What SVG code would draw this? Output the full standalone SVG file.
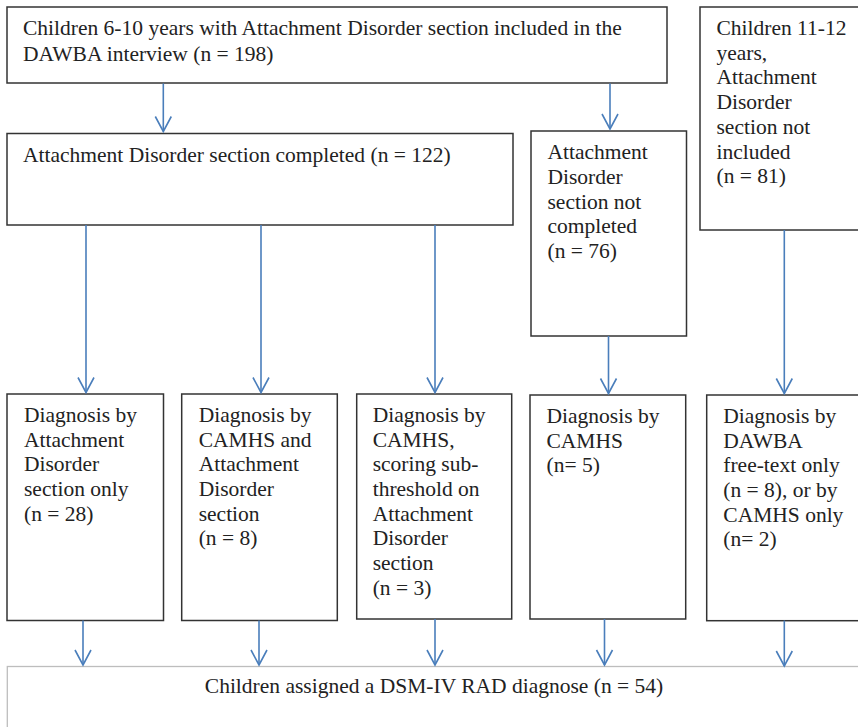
<svg xmlns="http://www.w3.org/2000/svg" width="858" height="727" viewBox="0 0 858 727">
<style>
.box{fill:#fff;stroke:#333;stroke-width:1.5}
.bot{fill:#fff;stroke:#bdbdbd;stroke-width:1.3}
.c{fill:none;stroke:#4a7ebb;stroke-width:1.6}
</style>
<defs>
<marker id="ah" markerUnits="userSpaceOnUse" markerWidth="18" markerHeight="18" refX="15" refY="8" orient="auto" overflow="visible">
<path d="M0,0 L15,8 L0,16" fill="none" stroke="#4a7ebb" stroke-width="1.6"/>
</marker>
</defs>
<rect width="858" height="727" fill="#fff"/>
<g font-family="'Liberation Serif', Tinos, 'Times New Roman', 'DejaVu Serif', serif" font-size="21.5" fill="#222">
<g id="n-all">
<rect class="box" x="7" y="7" width="660" height="76"/>
<text x="23" y="35">Children 6-10 years with Attachment Disorder section included in the</text>
<text x="23" y="61">DAWBA interview (n = 198)</text>
</g>
<g id="n-completed">
<rect class="box" x="7" y="133.5" width="506" height="91.5"/>
<text x="23" y="162">Attachment Disorder section completed (n = 122)</text>
</g>
<g id="n-notcompleted">
<rect class="box" x="531" y="131" width="155.5" height="205"/>
<text x="547.5" y="159">Attachment</text>
<text x="547.5" y="183.8">Disorder</text>
<text x="547.5" y="208.6">section not</text>
<text x="547.5" y="233.4">completed</text>
<text x="547.5" y="258.2">(n = 76)</text>
</g>
<g id="n-older">
<rect class="box" x="700" y="7" width="165" height="223"/>
<text x="716.5" y="35">Children 11-12</text>
<text x="716.5" y="59.7">years,</text>
<text x="716.5" y="84.4">Attachment</text>
<text x="716.5" y="109.1">Disorder</text>
<text x="716.5" y="133.8">section not</text>
<text x="716.5" y="158.5">included</text>
<text x="716.5" y="183.2">(n = 81)</text>
</g>
<g id="n-d1">
<rect class="box" x="7" y="394" width="156.5" height="226.5"/>
<text x="24" y="421.8">Diagnosis by</text>
<text x="24" y="446.5">Attachment</text>
<text x="24" y="471.2">Disorder</text>
<text x="24" y="495.9">section only</text>
<text x="24" y="520.6">(n = 28)</text>
</g>
<g id="n-d2">
<rect class="box" x="181.7" y="394" width="155.6" height="226.5"/>
<text x="198.7" y="421.8">Diagnosis by</text>
<text x="198.7" y="446.5">CAMHS and</text>
<text x="198.7" y="471.2">Attachment</text>
<text x="198.7" y="495.9">Disorder</text>
<text x="198.7" y="520.6">section</text>
<text x="198.7" y="545.3">(n = 8)</text>
</g>
<g id="n-d3">
<rect class="box" x="356.7" y="394" width="155" height="225"/>
<text x="372.7" y="421.8">Diagnosis by</text>
<text x="372.7" y="446.5">CAMHS,</text>
<text x="372.7" y="471.2">scoring sub-</text>
<text x="372.7" y="495.9">threshold on</text>
<text x="372.7" y="520.6">Attachment</text>
<text x="372.7" y="545.3">Disorder</text>
<text x="372.7" y="570">section</text>
<text x="372.7" y="594.7">(n = 3)</text>
</g>
<g id="n-d4">
<rect class="box" x="530" y="395" width="155.7" height="224"/>
<text x="546.5" y="422.8">Diagnosis by</text>
<text x="546.5" y="447.5">CAMHS</text>
<text x="546.5" y="472.2">(n= 5)</text>
</g>
<g id="n-d5">
<rect class="box" x="706.7" y="395" width="160" height="225.7"/>
<text x="723.3" y="422.8">Diagnosis by</text>
<text x="723.3" y="447.5">DAWBA</text>
<text x="723.3" y="472.2">free-text only</text>
<text x="723.3" y="496.9">(n = 8), or by</text>
<text x="723.3" y="521.6">CAMHS only</text>
<text x="723.3" y="546.3">(n= 2)</text>
</g>
<g id="n-rad">
<rect class="bot" x="7.3" y="666.5" width="870" height="80"/>
<text x="434" y="693" text-anchor="middle">Children assigned a DSM-IV RAD diagnose (n = 54)</text>
</g>
</g>
<g id="connectors">
<path class="c" d="M163.3,83.5 V131.5" marker-end="url(#ah)"/>
<path class="c" d="M610,83.5 V129" marker-end="url(#ah)"/>
<path class="c" d="M86,225 V392.5" marker-end="url(#ah)"/>
<path class="c" d="M261,225 V392.5" marker-end="url(#ah)"/>
<path class="c" d="M435,225 V392.5" marker-end="url(#ah)"/>
<path class="c" d="M608.5,336 V393.5" marker-end="url(#ah)"/>
<path class="c" d="M784.3,230 V393.5" marker-end="url(#ah)"/>
<path class="c" d="M83,620.5 V665" marker-end="url(#ah)"/>
<path class="c" d="M259,620.5 V665" marker-end="url(#ah)"/>
<path class="c" d="M435,619 V665" marker-end="url(#ah)"/>
<path class="c" d="M604.5,619 V665" marker-end="url(#ah)"/>
<path class="c" d="M784.3,620.5 V666" marker-end="url(#ah)"/>
</g>
</svg>
